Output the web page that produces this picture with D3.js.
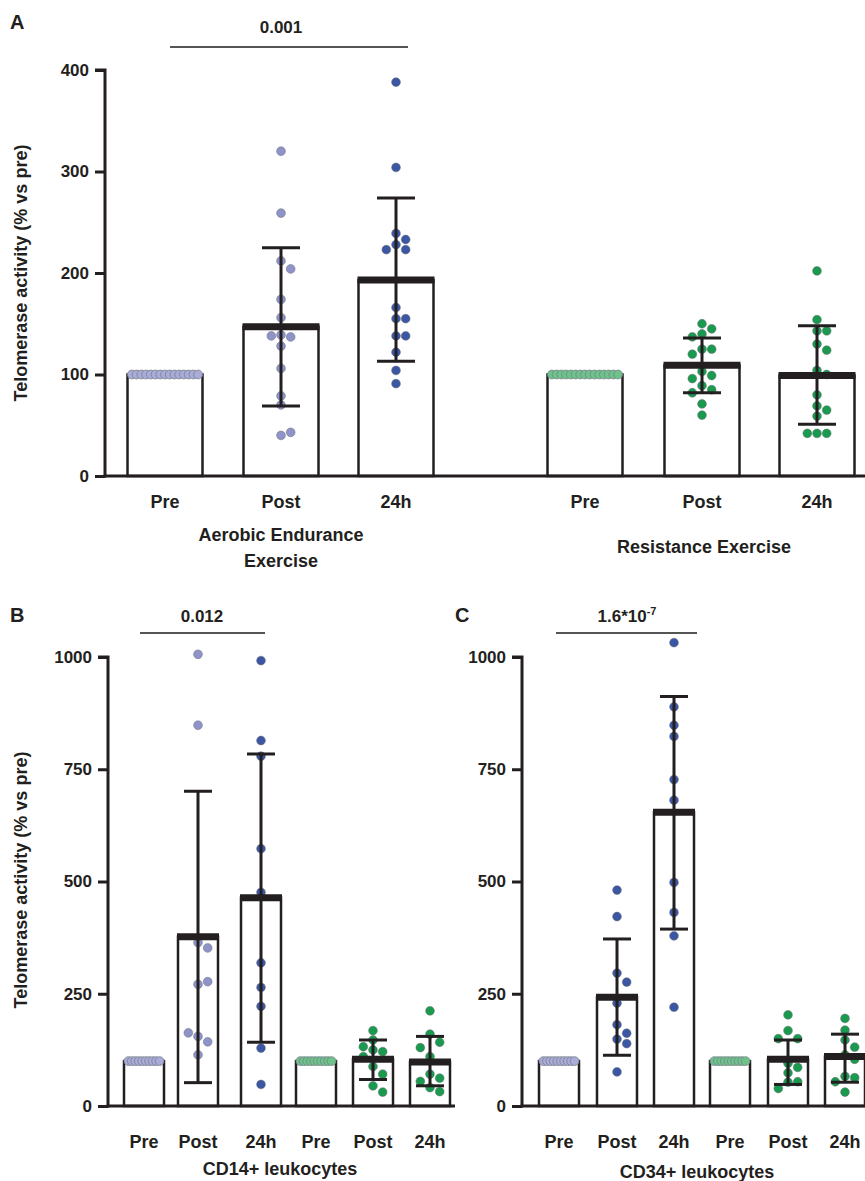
<!DOCTYPE html>
<html><head><meta charset="utf-8">
<script src="https://cdn.jsdelivr.net/npm/d3@7"></script>
<style>body{margin:0;background:#fff}text{font-family:"Liberation Sans",Arial,sans-serif;font-weight:bold;fill:#231f20}</style>
</head><body><svg id="fig" width="865" height="1181"></svg>
<script>
// panel A: aerobic (pre/post/24h) and resistance (pre/post/24h)
const aCats = ["Pre","Post","24h","Pre","Post","24h"];
const aMeans = [100,147,193,100,109,99];
const aSdHi = [100,225,274,100,136,148];
const aSdLo = [100,69,113,100,82,51];
const aPts = [
  Array(15).fill(100),
  [320,259,212,204,174,156,139,137,138,128,106,79,70,40,43],
  [388,304,239,233,228,223,223,166,155,155,138,138,122,104,91],
  Array(15).fill(100),
  [150,145,140,137,125,125,120,103,99,96,89,85,82,71,60],
  [202,154,143,143,130,124,104,100,80,69,65,59,42,42,42]
];
// panel B: CD14+
const bMeans = [100,377,464,100,104,98];
const bSdHi = [100,701,784,100,147,155];
const bSdLo = [100,52,142,100,59,45];
const bPts = [
  Array(10).fill(100),
  [1006,848,364,352,271,277,155,143,163,114],
  [992,814,779,573,476,319,264,222,129,48],
  Array(10).fill(100),
  [168,147,125,121,132,110,88,71,45,31],
  [212,160,142,110,71,62,41,32,130,55]
];
// panel C: CD34+
const cMeans = [100,242,654,100,104,110];
const cSdHi = [100,372,912,100,147,160];
const cSdLo = [100,113,394,100,48,53];
const cPts = [
  Array(10).fill(100),
  [481,422,296,276,229,181,162,149,139,76],
  [1032,889,848,823,727,681,498,431,379,220],
  Array(10).fill(100),
  [203,168,150,150,95,86,74,54,53,39],
  [195,169,147,131,114,104,66,63,54,31]
];
const fillsAB = ["#a9acd8","#8e94c9","#3b56a3","#6cc48a","#1a9a4f","#1a9a4f"];
const fillsC = ["#a9acd8","#3b56a3","#3b56a3","#6cc48a","#1a9a4f","#1a9a4f"];

const svg = d3.select("#fig");

function panel(o){
  const y = d3.scaleLinear().domain([0,o.max]).range([o.y0,o.yTop]);
  const x = d3.scaleOrdinal().domain(d3.range(6)).range(o.centers);
  const g = svg.append("g");
  // bars
  o.means.forEach((m,i)=>{
    g.append("rect").attr("x",x(i)-o.bw/2).attr("y",y(m)).attr("width",o.bw).attr("height",o.y0-y(m))
      .attr("fill","#fff").attr("stroke","#231f20").attr("stroke-width",2.5);
  });
  // points
  o.pts.forEach((arr,i)=>{
    let placed=[];
    const r=o.r, pre=(i===0||i===3);
    arr.forEach((v,k)=>{
      let cx;
      if(pre){ const n=arr.length; cx = x(i)-o.bw/2+r+ k*((o.bw-2*r)/(n-1)); }
      else{
        const cands=[0,1,-1,2,-2];
        for(const c of cands){
          const tx=x(i)+c*r*2.2;
          if(placed.every(p=>Math.hypot(p[0]-tx,p[1]-y(v))>=2*r+0.3)){cx=tx;break;}
        }
        if(cx===undefined) cx=x(i);
      }
      placed.push([cx,y(v)]);
      g.append("circle").attr("cx",cx).attr("cy",y(v)).attr("r",r)
        .attr("fill",o.fills[i]).attr("stroke",pre?"#7a7f8a":"#6b6e75").attr("stroke-width",pre?0.8:0.5);
    });
  });
  // error bars + mean lines
  o.means.forEach((m,i)=>{
    if(i===0||i===3) return;
    const cx=x(i);
    g.append("line").attr("x1",cx).attr("x2",cx).attr("y1",y(o.hi[i])).attr("y2",y(o.lo[i])).attr("stroke","#231f20").attr("stroke-width",3);
    [o.hi[i],o.lo[i]].forEach(v=>g.append("line").attr("x1",cx-o.cap).attr("x2",cx+o.cap).attr("y1",y(v)).attr("y2",y(v)).attr("stroke","#231f20").attr("stroke-width",3));
    g.append("line").attr("x1",x(i)-o.bw/2-1).attr("x2",x(i)+o.bw/2+1).attr("y1",y(m)).attr("y2",y(m)).attr("stroke","#231f20").attr("stroke-width",7);
  });
  // axes
  const ay = g.append("g").attr("transform",`translate(${o.ax},0)`).call(d3.axisLeft(y).tickValues(o.ticks).tickFormat(d3.format("d")).tickSize(10).tickPadding(6));
  ay.select(".domain").attr("d",`M-10,${o.yTop}H0V${o.y0+1.5}`);
  ay.selectAll("path,line").attr("stroke","#231f20").attr("stroke-width",3);
  ay.selectAll("text").style("font-size","17px").style("font-family","Liberation Sans, Arial").style("font-weight","bold").attr("fill","#231f20");
  g.append("line").attr("x1",o.ax-1.5).attr("x2",o.xEnd).attr("y1",o.y0).attr("y2",o.y0).attr("stroke","#231f20").attr("stroke-width",3);
  aCats.forEach((c,i)=>g.append("text").attr("x",x(i)).attr("y",o.catY).attr("text-anchor","middle").style("font-size","18px").text(c));
  return y;
}

panel({max:400,y0:476,yTop:70,ax:105,xEnd:865,centers:[165,281,396,585,702,817],bw:75,r:4.4,cap:19,fills:fillsAB,
  means:aMeans,hi:aSdHi,lo:aSdLo,pts:aPts,ticks:[0,100,200,300,400],catY:508});
panel({max:1000,y0:1106,yTop:657,ax:108,xEnd:455,centers:[144,198,261,316,373,430],bw:40,r:4.4,cap:14,fills:fillsAB,
  means:bMeans,hi:bSdHi,lo:bSdLo,pts:bPts,ticks:[0,250,500,750,1000],catY:1148});
panel({max:1000,y0:1106,yTop:657,ax:522,xEnd:865,centers:[559,617,674,730,788,845],bw:40,r:4.4,cap:14,fills:fillsC,
  means:cMeans,hi:cSdHi,lo:cSdLo,pts:cPts,ticks:[0,250,500,750,1000],catY:1148});

// labels
const t=(x,y,s,size,extra)=>svg.append("text").attr("x",x).attr("y",y).attr("text-anchor",extra||"middle").style("font-size",size+"px").text(s);
t(10,29,"A",20,"start"); t(10,622,"B",20,"start"); t(455,622,"C",20,"start");
t(281,541,"Aerobic Endurance",18); t(281,567,"Exercise",18); t(704,553,"Resistance Exercise",18);
t(280,1175,"CD14+ leukocytes",18); t(697,1178,"CD34+ leukocytes",18);
svg.append("text").attr("transform","translate(27,273) rotate(-90)").attr("text-anchor","middle").style("font-size","18px").text("Telomerase activity (% vs pre)");
svg.append("text").attr("transform","translate(27,880) rotate(-90)").attr("text-anchor","middle").style("font-size","18px").text("Telomerase activity (% vs pre)");
// significance
const sig=(x1,x2,yy)=>svg.append("line").attr("x1",x1).attr("x2",x2).attr("y1",yy).attr("y2",yy).attr("stroke","#555").attr("stroke-width",2);
sig(170,408,47); t(281,33,"0.001",17);
sig(140,265,633); t(202,622,"0.012",17);
sig(556,697,633);
const c=svg.append("text").attr("x",627).attr("y",622).attr("text-anchor","middle").style("font-size","17px");
c.append("tspan").text("1.6*10");
c.append("tspan").attr("dy",-7).style("font-size","11px").text("-7");
</script></body></html>
